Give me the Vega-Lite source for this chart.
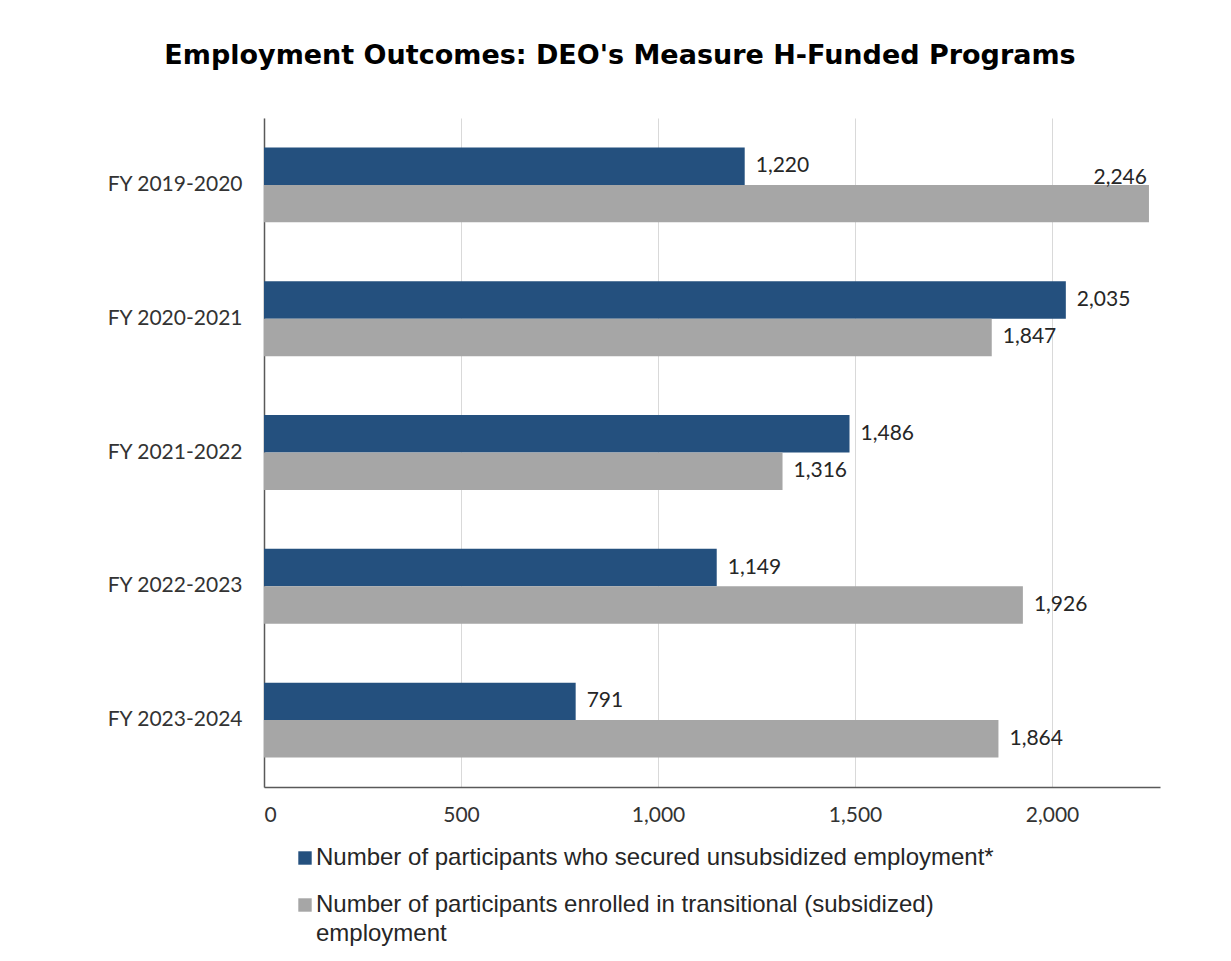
{
  "$schema": "https://vega.github.io/schema/vega-lite/v6.json",
  "width": 896,
  "height": 669,
  "autosize": "none",
  "padding": {"left": 264, "top": 118, "right": 71, "bottom": 174},
  "background": "white",
  "title": {
    "text": "Employment Outcomes: DEO's Measure H-Funded Programs",
    "font": "DejaVu Sans",
    "fontSize": 27,
    "fontWeight": "bold",
    "color": "#000000",
    "anchor": "middle",
    "dx": -92,
    "offset": 48
  },
  "config": {
    "view": {"stroke": null},
    "style": {"guide-label": {"lineHeight": 29}}
  },
  "data": {
    "values": [
      {"year": "FY 2019-2020", "series": "Number of participants who secured unsubsidized employment*", "value": 1220},
      {"year": "FY 2019-2020", "series": "Number of participants enrolled in transitional (subsidized) employment", "value": 2246},
      {"year": "FY 2020-2021", "series": "Number of participants who secured unsubsidized employment*", "value": 2035},
      {"year": "FY 2020-2021", "series": "Number of participants enrolled in transitional (subsidized) employment", "value": 1847},
      {"year": "FY 2021-2022", "series": "Number of participants who secured unsubsidized employment*", "value": 1486},
      {"year": "FY 2021-2022", "series": "Number of participants enrolled in transitional (subsidized) employment", "value": 1316},
      {"year": "FY 2022-2023", "series": "Number of participants who secured unsubsidized employment*", "value": 1149},
      {"year": "FY 2022-2023", "series": "Number of participants enrolled in transitional (subsidized) employment", "value": 1926},
      {"year": "FY 2023-2024", "series": "Number of participants who secured unsubsidized employment*", "value": 791},
      {"year": "FY 2023-2024", "series": "Number of participants enrolled in transitional (subsidized) employment", "value": 1864}
    ]
  },
  "encoding": {
    "y": {
      "field": "year",
      "type": "nominal",
      "sort": null,
      "scale": {"paddingInner": 0.44, "paddingOuter": 0.22},
      "axis": {
        "title": null,
        "ticks": false,
        "grid": false,
        "domainColor": "#595959",
        "domainWidth": 1.5,
        "labelFont": "Lato",
        "labelFontSize": 21,
        "labelColor": "#333333",
        "labelPadding": 22
      }
    },
    "yOffset": {
      "field": "series",
      "type": "nominal",
      "sort": [
        "Number of participants who secured unsubsidized employment*",
        "Number of participants enrolled in transitional (subsidized) employment"
      ]
    },
    "x": {
      "field": "value",
      "type": "quantitative",
      "scale": {"domain": [0, 2274], "nice": false},
      "axis": {
        "title": null,
        "values": [0, 500, 1000, 1500, 2000],
        "format": ",.0f",
        "ticks": false,
        "grid": true,
        "gridColor": "#d9d9d9",
        "domainColor": "#595959",
        "domainWidth": 1.5,
        "labelFont": "Lato",
        "labelFontSize": 21,
        "labelColor": "#333333",
        "labelPadding": 17
      }
    }
  },
  "layer": [
    {
      "mark": {"type": "bar"},
      "encoding": {
        "color": {
          "field": "series",
          "type": "nominal",
          "scale": {
            "domain": [
              "Number of participants who secured unsubsidized employment*",
              "Number of participants enrolled in transitional (subsidized) employment"
            ],
            "range": ["#24507E", "#A6A6A6"]
          },
          "legend": {
            "orient": "none",
            "legendX": 29,
            "legendY": 728,
            "direction": "vertical",
            "title": null,
            "padding": 0,
            "symbolType": "square",
            "symbolSize": 180,
            "symbolStrokeWidth": 0,
            "labelFont": "Liberation Sans",
            "labelFontSize": 24,
            "labelColor": "#262626",
            "labelOffset": -1,
            "labelLimit": 900,
            "rowPadding": 23,
            "labelExpr": "datum.label == 'Number of participants enrolled in transitional (subsidized) employment' ? ['Number of participants enrolled in transitional (subsidized)', 'employment'] : datum.label"
          }
        }
      }
    },
    {
      "transform": [{"filter": "datum.value < 2200"}],
      "mark": {"type": "text", "align": "left", "baseline": "middle", "dx": 11, "font": "Lato", "fontSize": 21, "color": "#262626"},
      "encoding": {"text": {"field": "value", "type": "quantitative", "format": ",.0f"}}
    },
    {
      "transform": [{"filter": "datum.value >= 2200"}],
      "mark": {"type": "text", "align": "right", "baseline": "middle", "dx": -2, "dy": -26, "font": "Lato", "fontSize": 21, "color": "#262626"},
      "encoding": {"text": {"field": "value", "type": "quantitative", "format": ",.0f"}}
    }
  ]
}
